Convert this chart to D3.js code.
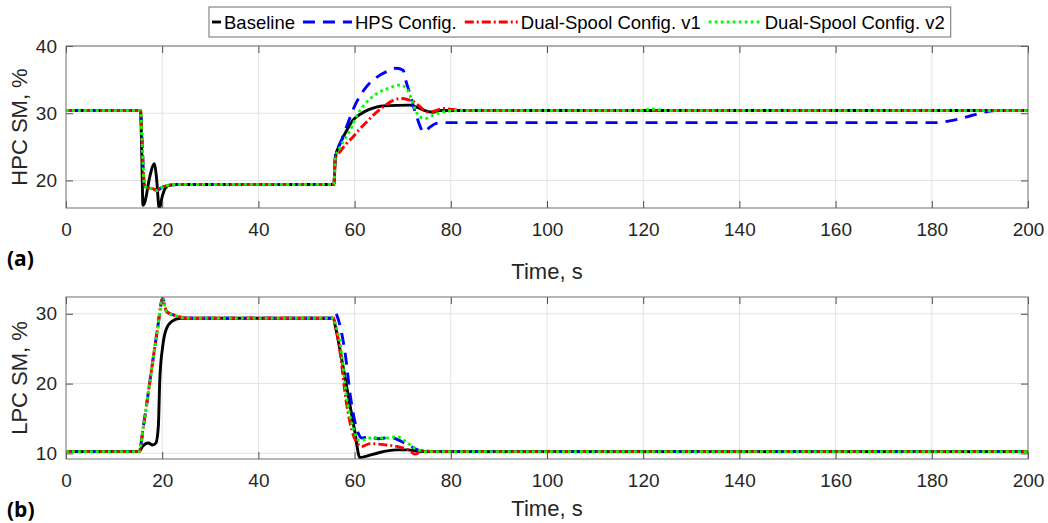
<!DOCTYPE html>
<html>
<head>
<meta charset="utf-8">
<script src="https://cdn.jsdelivr.net/npm/d3@7"></script>
<style>
  body { margin: 0; background: #fff; }
  text { font-family: "Liberation Sans", Arial, sans-serif; }
</style>
</head>
<body>
<div id="wrapper"></div>
<script>
// time axis and tick labels
const timeTicks = [0, 20, 40, 60, 80, 100, 120, 140, 160, 180, 200]
const hpcTicks = [20, 30, 40]
const lpcTicks = [10, 20, 30]
const seriesNames = ["Baseline", "HPS Config.", "Dual-Spool Config. v1", "Dual-Spool Config. v2"]

// (a) HPC stall margin, [time s, SM %]
const hpcBaseline = [[0,30.4],[15.5,30.4],[15.75,24],[16.0,16.3],[16.4,16.8],[17.4,20.5],[18.4,22.5],[18.8,20.5],[19.4,15.8],[20.0,17.6],[20.6,18.8],[21.3,19.25],[23,19.4],[55.7,19.4],[56.0,23.5],[57,25.5],[58.4,27.5],[59.7,29.0],[61.5,30.0],[63.2,30.6],[66,31.1],[71.5,31.2],[72.9,30.9],[74.6,30.4],[76.3,30.15],[77.7,30.4],[200,30.4]]
const hpcHps = [[0,30.4],[15.5,30.4],[15.8,26],[16.3,19.3],[16.8,18.9],[18,18.8],[18.9,18.5],[19.6,18.8],[20.8,19.2],[23,19.4],[55.7,19.4],[56.0,23.5],[57.3,26],[58.7,28.7],[60.1,31.2],[62.2,33.7],[64.3,35.2],[66.7,36.2],[68.7,36.7],[70.1,36.4],[70.6,35],[71.5,32.9],[72.9,29.5],[74.4,27.2],[75.6,27.9],[77,28.5],[78.5,28.6],[181,28.6],[184,28.9],[187.5,29.5],[190,30.0],[193,30.4],[200,30.4]]
const hpcDualV1 = [[0,30.4],[15.5,30.4],[15.8,26],[16.3,19.3],[16.8,18.9],[18,18.8],[18.9,18.5],[19.6,18.8],[20.8,19.2],[23,19.4],[55.7,19.4],[56.0,23.3],[57,24.3],[58.2,25.4],[59.7,26.5],[61,27.6],[62.5,28.7],[64.2,29.9],[65.9,30.9],[68,31.9],[69.8,32.2],[71.2,32.0],[72.3,31.7],[73.7,30.9],[75.1,30.2],[76.5,30.3],[78.5,30.7],[80.5,30.55],[83,30.4],[200,30.4]]
const hpcDualV2 = [[0,30.4],[15.5,30.4],[15.8,26],[16.3,19.3],[16.8,18.9],[18,18.8],[18.9,18.5],[19.6,18.8],[20.8,19.2],[23,19.4],[55.7,19.4],[56.0,23.3],[57,25],[59.1,27.5],[60.5,29.7],[62.2,31.4],[64.6,32.9],[67.4,33.8],[69.4,34.2],[70.8,33.7],[71.7,32.3],[72.5,30.7],[73.5,29.5],[74.6,29.2],[76.3,29.7],[78.4,30.2],[81,30.4],[119,30.4],[122,30.6],[125,30.4],[200,30.4]]

// (b) LPC stall margin, [time s, SM %]
const lpcBaseline = [[0,10.25],[15.2,10.25],[15.9,11.0],[17.1,11.5],[18.0,11.2],[18.7,11.5],[19.2,13.9],[19.5,20.6],[20.1,25.3],[20.8,27.7],[22,28.9],[23.8,29.35],[55.6,29.35],[56,28.2],[58,20.9],[60,13.3],[61.1,9.4],[62.5,9.6],[65,10.1],[68.7,10.5],[71,10.5],[73.5,10.3],[76,10.25],[200,10.25]]
const lpcHps = [[0,10.25],[15.2,10.25],[16.1,13.9],[17.5,20.6],[19.0,27.7],[20.1,32.2],[20.9,30.3],[23,29.7],[25,29.35],[55.6,29.35],[55.9,30.3],[56.3,29.8],[57,28.2],[58.1,24],[59.1,18.3],[60.5,13.4],[61.5,12.2],[62.9,12.4],[65,12.1],[67.4,12.3],[69.5,11.8],[71.2,11.2],[73.5,10.4],[75.6,10.25],[200,10.25]]
const lpcDualV1 = [[0,10.25],[15.2,10.25],[16.1,13.9],[17.5,20.6],[19.0,27.7],[20.1,32.2],[20.9,30.3],[23,29.7],[25,29.35],[55.6,29.35],[56,28.3],[56.6,26.3],[58.4,16.8],[59.8,12.5],[61.5,11.0],[63.2,11.4],[66.7,11.2],[68.8,11.0],[71.5,10.4],[72.5,9.9],[74.3,10.4],[76.3,10.25],[200,10.25]]
const lpcDualV2 = [[0,10.25],[15.2,10.25],[16.1,13.9],[17.5,20.6],[19.0,27.7],[20.1,32.2],[20.9,30.3],[23,29.7],[25,29.35],[55.6,29.35],[56,28.5],[57,25.8],[58.4,17.7],[59.8,13.4],[61.1,11.8],[63.2,12.2],[66.7,12.2],[68.8,12.4],[70.8,11.6],[72.9,10.6],[75,10.25],[200,10.25]]

// line styles, drawn in this order (green ends on top)
const styles = [
    { color: "#000000", dash: null, width: 2.9, sample: 9 },
    { color: "#0000ff", dash: "12,8", width: 2.9, sample: 49 },
    { color: "#ff0000", dash: "9,3,2,3", width: 2.9, sample: 53 },
    { color: "#00ff00", dash: "2.8,3.2", width: 2.9, sample: 53 },
]

function drawChart() {
    const dimensions = {
        width: 1048,
        height: 523,
        left: 66,
        right: 1028,
    }

    const svg = d3.select("#wrapper")
        .append("svg")
            .attr("width", dimensions.width)
            .attr("height", dimensions.height)

    const xScale = d3.scaleLinear()
        .domain([0, 200])
        .range([dimensions.left, dimensions.right])

    const panels = [
        { id: "a", top: 46, bottom: 208, domain: [15.9, 40], ticks: hpcTicks, label: "HPC SM, %", timeY: 279,
          series: [hpcBaseline, hpcHps, hpcDualV1, hpcDualV2] },
        { id: "b", top: 297, bottom: 459, domain: [9.2, 32.4], ticks: lpcTicks, label: "LPC SM, %", timeY: 516,
          series: [lpcBaseline, lpcHps, lpcDualV1, lpcDualV2] },
    ]

    panels.forEach(p => {
        const yScale = d3.scaleLinear()
            .domain(p.domain)
            .range([p.bottom, p.top])

        const g = svg.append("g")

        // grid
        g.append("g").selectAll("line")
            .data(timeTicks.slice(1, -1))
            .join("line")
                .attr("x1", d => xScale(d)).attr("x2", d => xScale(d))
                .attr("y1", p.top).attr("y2", p.bottom)
                .attr("stroke", "#e3e3e3")
        g.append("g").selectAll("line")
            .data(p.ticks)
            .join("line")
                .attr("x1", dimensions.left).attr("x2", dimensions.right)
                .attr("y1", d => yScale(d)).attr("y2", d => yScale(d))
                .attr("stroke", "#e3e3e3")

        // data
        g.append("clipPath").attr("id", "clip-" + p.id)
            .append("rect")
                .attr("x", dimensions.left).attr("y", p.top)
                .attr("width", dimensions.right - dimensions.left)
                .attr("height", p.bottom - p.top)

        const lineGenerator = d3.line()
            .x(d => xScale(d[0]))
            .y(d => yScale(d[1]))
            .curve(d3.curveMonotoneX)

        g.append("g").attr("clip-path", `url(#clip-${p.id})`)
            .selectAll("path")
            .data(p.series)
            .join("path")
                .attr("d", d => lineGenerator(d))
                .attr("fill", "none")
                .attr("stroke", (d, i) => styles[i].color)
                .attr("stroke-width", (d, i) => styles[i].width)
                .attr("stroke-dasharray", (d, i) => styles[i].dash)

        // axes, ticks pointing inwards on all four sides
        const bottomAxis = g.append("g")
            .attr("transform", `translate(0,${p.bottom})`)
            .call(d3.axisBottom(xScale).tickValues(timeTicks).tickSize(-7).tickPadding(15))
        const topAxis = g.append("g")
            .attr("transform", `translate(0,${p.top})`)
            .call(d3.axisTop(xScale).tickValues(timeTicks).tickSize(-7).tickFormat(""))
        const leftAxis = g.append("g")
            .attr("transform", `translate(${dimensions.left},0)`)
            .call(d3.axisLeft(yScale).tickValues(p.ticks).tickSize(-7).tickPadding(9))
        const rightAxis = g.append("g")
            .attr("transform", `translate(${dimensions.right},0)`)
            .call(d3.axisRight(yScale).tickValues(p.ticks).tickSize(-7).tickFormat(""))

        ;[bottomAxis, topAxis, leftAxis, rightAxis].forEach(a => {
            a.select(".domain").remove()
            a.selectAll(".tick line").attr("stroke", "#4d4d4d")
            a.selectAll(".tick text")
                .attr("fill", "#262626")
                .style("font-size", "19px")
                .style("font-family", "'Liberation Sans', Arial, sans-serif")
        })

        g.append("rect")
            .attr("x", dimensions.left).attr("y", p.top)
            .attr("width", dimensions.right - dimensions.left)
            .attr("height", p.bottom - p.top)
            .attr("fill", "none")
            .attr("stroke", "#6e6e6e")

        // labels
        g.append("text")
            .attr("x", (dimensions.left + dimensions.right) / 2)
            .attr("y", p.timeY)
            .attr("text-anchor", "middle")
            .attr("fill", "#262626")
            .style("font-size", "22px")
            .text("Time, s")
        g.append("text")
            .attr("transform", `translate(27,${(p.top + p.bottom) / 2}) rotate(-90)`)
            .attr("text-anchor", "middle")
            .attr("fill", "#262626")
            .style("font-size", "22px")
            .text(p.label)
        g.append("text")
            .attr("x", 7)
            .attr("y", p.bottom + 58)
            .attr("fill", "#000")
            .style("font-size", "21px")
            .style("font-weight", "bold")
            .style("font-family", "'Open Sans', 'Liberation Sans', sans-serif")
            .text(`(${p.id})`)
    })

    // legend
    const legend = svg.append("g")
        .attr("transform", "translate(209,0)")
    const legendBox = legend.append("rect")
        .attr("fill", "#fff")
        .attr("stroke", "#6e6e6e")
    let cursor = 3
    seriesNames.forEach((name, i) => {
        legend.append("line")
            .attr("x1", cursor).attr("x2", cursor + styles[i].sample)
            .attr("y1", 22).attr("y2", 22)
            .attr("stroke", styles[i].color)
            .attr("stroke-width", styles[i].width)
            .attr("stroke-dasharray", styles[i].dash)
        const label = legend.append("text")
            .attr("x", cursor + styles[i].sample + 3)
            .attr("y", 28.5)
            .attr("fill", "#000")
            .style("font-size", "18.5px")
            .text(name)
        cursor += styles[i].sample + 3 + label.node().getComputedTextLength() + 8
    })
    legendBox.attr("x", 0).attr("y", 7).attr("width", cursor - 2).attr("height", 30)
}
drawChart()
</script>
</body>
</html>
